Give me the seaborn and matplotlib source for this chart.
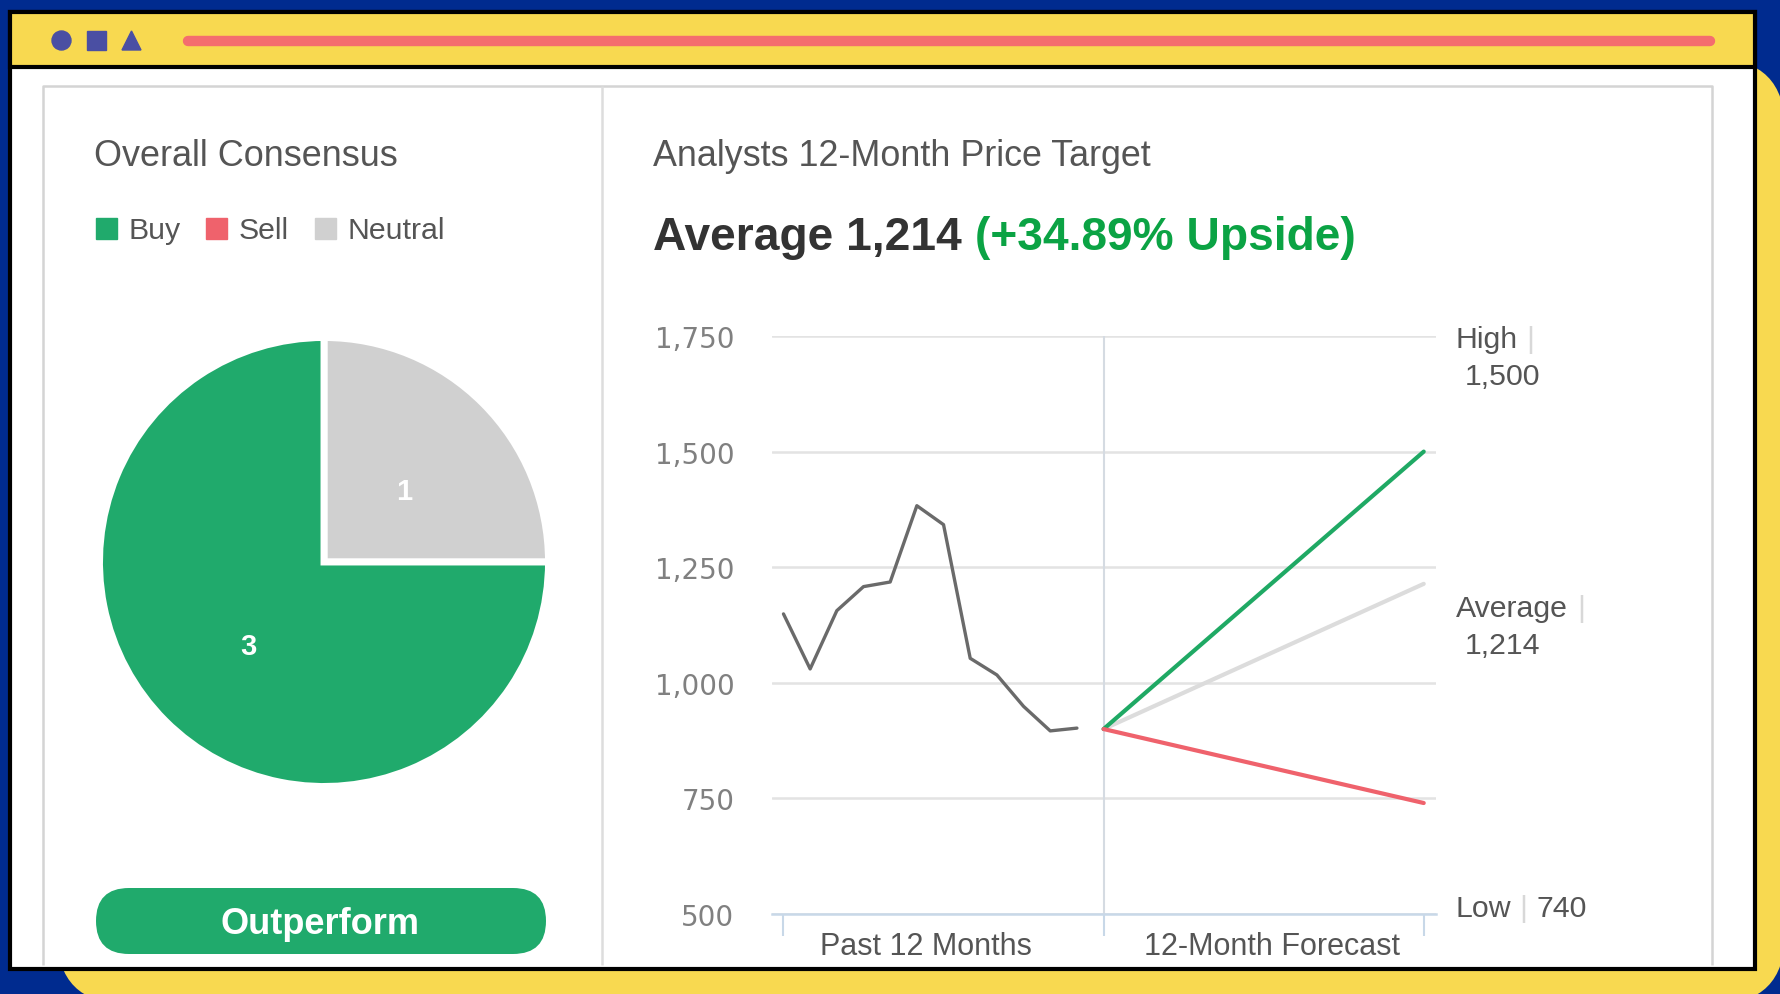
import matplotlib

matplotlib.use("Agg")
import matplotlib.pyplot as plt
import pandas as pd
import seaborn as sns
from matplotlib.patches import Circle, FancyBboxPatch, Polygon, Rectangle

WIDTH: int = 1781
HEIGHT: int = 995

CONSENSUS_NAMES: list[str] = ["Buy", "Sell", "Neutral"]
CONSENSUS_COUNTS: list[int] = [3, 0, 1]

PAST_MONTHS: list[int] = [0, 1, 2, 3, 4, 5, 6, 7, 8, 9, 10, 11]
PAST_PRICES: list[int] = [1149, 1030, 1156, 1208, 1218, 1383, 1342, 1053, 1017, 949, 896, 902]

FORECAST_MONTHS: list[int] = [12, 24]
FORECAST_START: int = 900
FORECAST_NAMES: list[str] = ["Average", "High", "Low"]
FORECAST_TARGETS: list[int] = [1214, 1500, 740]

Y_TICKS: list[int] = [500, 750, 1000, 1250, 1500, 1750]
X_GROUP_TICKS: list[int] = [0, 12, 24]
X_LABEL_POSITIONS: list[float] = [5.33, 18.3]
X_LABELS: list[str] = ["Past 12 Months", "12-Month Forecast"]

BLUE = "#002b8f"
YELLOW = "#f8d950"
CORAL = "#f46d6e"
ICON = "#4a4fa3"
GREEN = "#20aa6c"
LINE_GREEN = "#1fa964"
RED = "#ef626c"
NEUTRAL = "#d0d0d0"
GRID = "#e3e3e3"
PANEL = "#d4d4d4"
TEXT = "#555555"
AXIS_BLUE = "#c8d8e8"

COLORS: dict[str, str] = {"Buy": GREEN, "Sell": RED, "Neutral": NEUTRAL}
LINE_COLORS: dict[str, str] = {"Average": "#dcdcdc", "High": LINE_GREEN, "Low": RED}


def add_axes_px(fig: plt.Figure, left: float, top: float, right: float, bottom: float) -> plt.Axes:
    return fig.add_axes([left / WIDTH, 1 - bottom / HEIGHT, (right - left) / WIDTH, (bottom - top) / HEIGHT])


def draw_frame(ax: plt.Axes) -> None:
    ax.set_xlim(0, WIDTH)
    ax.set_ylim(HEIGHT, 0)
    ax.axis("off")

    ax.add_patch(Rectangle((0, 0), WIDTH, HEIGHT, color=BLUE))
    ax.add_patch(FancyBboxPatch((57, 60), 1728, 945, boxstyle="round,pad=0,rounding_size=70", color=YELLOW, linewidth=0))

    ax.add_patch(Rectangle((10, 13), 1745, 957, facecolor="white", edgecolor="black", linewidth=3))
    ax.plot([43, 43, 1712, 1712], [966, 87, 87, 966], color=PANEL, linewidth=1.8, solid_capstyle="butt")
    ax.plot([602, 602], [87, 966], color="#dddddd", linewidth=1.8, solid_capstyle="butt")
    ax.add_patch(Rectangle((10, 13), 1745, 55, facecolor=YELLOW, edgecolor="black", linewidth=3))

    ax.add_patch(Circle((61.5, 41.5), 9.5, color=ICON))
    ax.add_patch(Rectangle((87, 32), 19, 19, color=ICON))
    ax.add_patch(Polygon([(122, 51), (141, 51), (131.5, 32)], color=ICON))
    ax.plot([188, 1710], [41.5, 41.5], color=CORAL, linewidth=7.5, solid_capstyle="round")

    ax.add_patch(FancyBboxPatch((96, 889), 450, 66, boxstyle="round,pad=0,rounding_size=33", color=GREEN, linewidth=0))
    ax.text(320, 925, "Outperform", color="white", fontsize=26, fontweight="bold", ha="center", va="center")

    ax.text(94, 156, "Overall Consensus", color=TEXT, fontsize=25.9, va="center")
    ax.text(653, 156, "Analysts 12-Month Price Target", color=TEXT, fontsize=25.8, va="center")

    legend_x: list[float] = [96, 206, 315]
    for name, x in zip(CONSENSUS_NAMES, legend_x):
        ax.add_patch(Rectangle((x, 219), 21, 21, color=COLORS[name]))
        ax.text(x + 33, 231, name, color=TEXT, fontsize=21.8, va="center")

    ax.text(653, 238, "Average 1,214", color="#333333", fontsize=33.2, fontweight="bold", va="center")
    ax.text(975, 238, "(+34.89% Upside)", color="#0ba344", fontsize=33.2, fontweight="bold", va="center")

    ax.text(1456, 340, "High", color=TEXT, fontsize=21.8, va="center")
    ax.text(1526, 340, "|", color="#d8d8d8", fontsize=21.8, va="center")
    ax.text(1465, 377, f"{FORECAST_TARGETS[1]:,}", color=TEXT, fontsize=21.8, va="center")
    ax.text(1456, 609, "Average", color=TEXT, fontsize=21.8, va="center")
    ax.text(1577, 609, "|", color="#d8d8d8", fontsize=21.8, va="center")
    ax.text(1465, 646, f"{FORECAST_TARGETS[0]:,}", color=TEXT, fontsize=21.8, va="center")
    ax.text(1456, 909, "Low", color=TEXT, fontsize=21.8, va="center")
    ax.text(1519, 909, "|", color="#d8d8d8", fontsize=21.8, va="center")
    ax.text(1537, 909, f"{FORECAST_TARGETS[2]:,}", color=TEXT, fontsize=21.8, va="center")


def draw_pie(ax: plt.Axes) -> None:
    consensus = pd.DataFrame({"name": CONSENSUS_NAMES, "count": CONSENSUS_COUNTS})
    shown = consensus[consensus["count"] > 0].iloc[::-1]
    _wedges, labels = ax.pie(
        shown["count"],
        labels=shown["count"].astype(str),
        colors=[COLORS[name] for name in shown["name"]],
        startangle=0,
        labeldistance=0.49,
        wedgeprops={"edgecolor": "white", "linewidth": 5},
        radius=1.0,
    )
    ax.set_xlim(-1, 1)
    ax.set_ylim(-1, 1)
    for label in labels:
        label.set_color("white")
        label.set_fontsize(21)
        label.set_fontweight("bold")
        label.set_ha("center")
        label.set_va("center")
        # the reference sits its counts a little lower than the wedge midline
        label_x, label_y = label.get_position()
        label.set_position((label_x + 0.01, label_y - 0.028))


def draw_price_chart(ax: plt.Axes) -> None:
    past = pd.DataFrame({"month": PAST_MONTHS, "price": PAST_PRICES})
    forecast = pd.DataFrame(
        [
            {"month": month, "price": price, "case": name}
            for name, target in zip(FORECAST_NAMES, FORECAST_TARGETS)
            for month, price in zip(FORECAST_MONTHS, [FORECAST_START, target])
        ]
    )

    sns.lineplot(data=past, x="month", y="price", color="#6a6a6a", linewidth=2.4, ax=ax, zorder=3)
    sns.lineplot(
        data=forecast,
        x="month",
        y="price",
        hue="case",
        hue_order=FORECAST_NAMES,
        palette=LINE_COLORS,
        linewidth=3,
        legend=False,
        ax=ax,
        zorder=3,
    )

    ax.set_xlim(-0.43, 24.46)
    ax.set_ylim(500, 1750)
    ax.set_xlabel("")
    ax.set_ylabel("")
    ax.patch.set_alpha(0)

    ax.set_yticks(Y_TICKS, [f"{tick:,}" for tick in Y_TICKS])
    ax.tick_params(axis="y", length=0, pad=27, labelcolor="#808080", labelsize=20)
    for label in ax.get_yticklabels():
        label.set_fontfamily("DejaVu Sans")
    ax.grid(axis="y", color=GRID, linewidth=1.8)
    ax.grid(axis="x", visible=False)
    ax.axvline(12, color="#d5dbe2", linewidth=1.5, zorder=2)

    ax.set_xticks(X_GROUP_TICKS, [""] * len(X_GROUP_TICKS))
    ax.tick_params(axis="x", which="major", bottom=True, length=16, width=1.5, color=AXIS_BLUE)
    ax.set_xticks(X_LABEL_POSITIONS, X_LABELS, minor=True)
    ax.tick_params(axis="x", which="minor", bottom=False, length=0, pad=12, labelcolor=TEXT, labelsize=22)

    sns.despine(ax=ax, left=True, top=True, right=True)
    ax.spines["bottom"].set_color(AXIS_BLUE)
    ax.spines["bottom"].set_linewidth(1.8)


def main() -> None:
    sns.set_theme(style="white")
    plt.rcParams["font.family"] = ["Liberation Sans", "DejaVu Sans"]

    fig = plt.figure(figsize=(WIDTH / 100, HEIGHT / 100), dpi=100)

    frame_ax = add_axes_px(fig, 0, 0, WIDTH, HEIGHT)
    draw_frame(frame_ax)

    pie_ax = add_axes_px(fig, 99.5, 338.5, 548.5, 787.5)
    draw_pie(pie_ax)

    chart_ax = add_axes_px(fig, 772, 337, 1436, 915)
    draw_price_chart(chart_ax)

    fig.savefig("out.png", dpi=100)


if __name__ == "__main__":
    main()
